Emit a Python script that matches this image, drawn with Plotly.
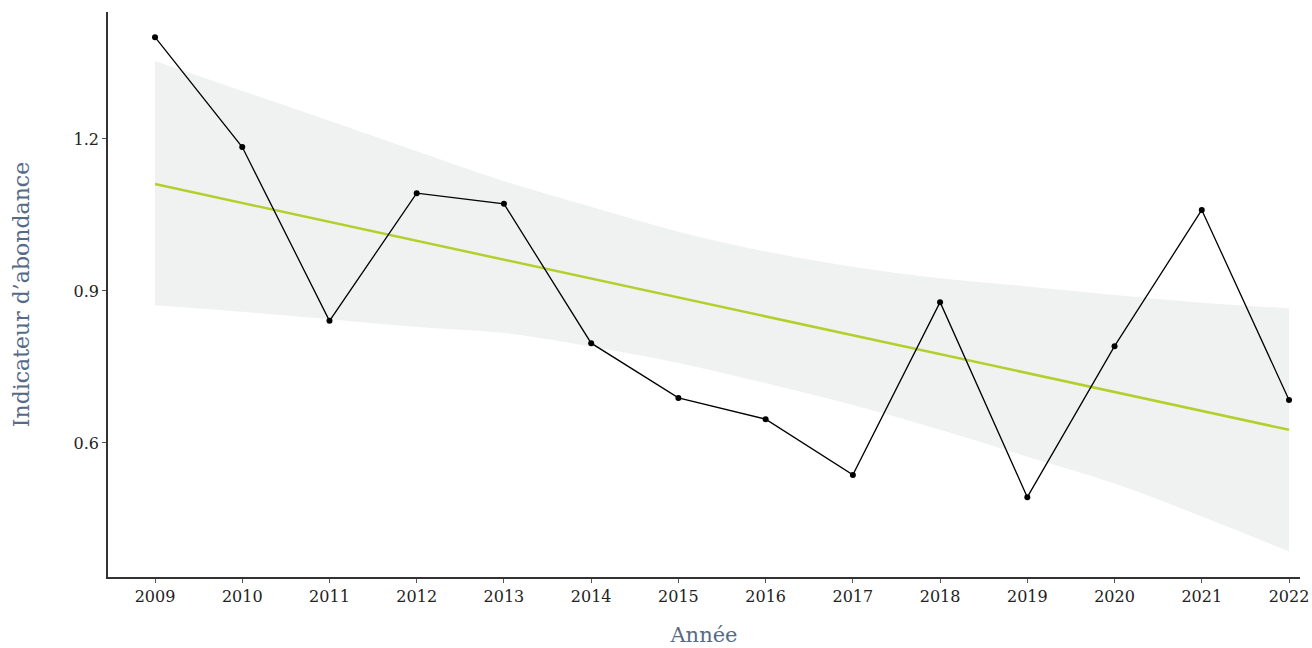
import plotly.graph_objects as go

years = [2009, 2010, 2011, 2012, 2013, 2014, 2015, 2016, 2017, 2018, 2019, 2020, 2021, 2022]
indicateur = [1.401, 1.184, 0.841, 1.093, 1.072, 0.797, 0.689, 0.647, 0.537, 0.878, 0.493, 0.791, 1.060, 0.685]

ci_upper = [1.354, 1.295, 1.236, 1.176, 1.117, 1.066, 1.017, 0.978, 0.948, 0.925, 0.909, 0.892, 0.877, 0.866]
ci_lower = [0.872, 0.859, 0.844, 0.829, 0.817, 0.790, 0.758, 0.718, 0.675, 0.626, 0.573, 0.520, 0.455, 0.386]

trend_years = [2009, 2022]
trend_values = [1.111, 0.626]

y_ticks = [0.6, 0.9, 1.2]
y_tick_labels = ["0.6", "0.9", "1.2"]

FONT = "DejaVu Serif"
TITLE_COLOR = "#566b87"

fig = go.Figure()

fig.add_trace(go.Scatter(
    x=years, y=ci_lower, mode="lines",
    line=dict(width=0, shape="spline", smoothing=1.0),
    hoverinfo="skip", showlegend=False,
))
fig.add_trace(go.Scatter(
    x=years, y=ci_upper, mode="lines",
    line=dict(width=0, shape="spline", smoothing=1.0),
    fill="tonexty", fillcolor="#f0f2f1",
    hoverinfo="skip", showlegend=False,
))

fig.add_trace(go.Scatter(
    x=trend_years, y=trend_values, mode="lines",
    line=dict(color="#b4cf2b", width=2.5), showlegend=False,
))

fig.add_trace(go.Scatter(
    x=years, y=indicateur, mode="lines+markers",
    line=dict(color="#000000", width=1.3),
    marker=dict(color="#000000", size=6),
    showlegend=False,
))

fig.update_layout(
    width=1312, height=648,
    margin=dict(l=108, r=12, t=12, b=71),
    plot_bgcolor="white", paper_bgcolor="white",
    font=dict(family=FONT, color="#222222", size=16),
    xaxis=dict(
        range=[2008.461, 2022.126],
        tickmode="array", tickvals=years, ticktext=[str(y) for y in years],
        showgrid=False, zeroline=False, automargin=False,
        showline=True, linecolor="#333333", linewidth=1.6,
        ticks="outside", ticklen=4, tickcolor="#555555", tickwidth=1,
        tickfont=dict(family=FONT, size=16, color="#222222"),
        title=dict(text="Année", font=dict(family=FONT, size=21, color=TITLE_COLOR), standoff=22),
    ),
    yaxis=dict(
        range=[0.3355, 1.4506],
        tickmode="array", tickvals=y_ticks, ticktext=y_tick_labels,
        showgrid=False, zeroline=False, automargin=False,
        showline=True, linecolor="#333333", linewidth=1.6,
        ticks="outside", ticklen=4, tickcolor="#555555", tickwidth=1,
        tickfont=dict(family=FONT, size=16, color="#222222"),
        title=dict(text="Indicateur d’abondance", font=dict(family=FONT, size=22, color=TITLE_COLOR), standoff=38),
    ),
)

fig.write_html("out.html")
